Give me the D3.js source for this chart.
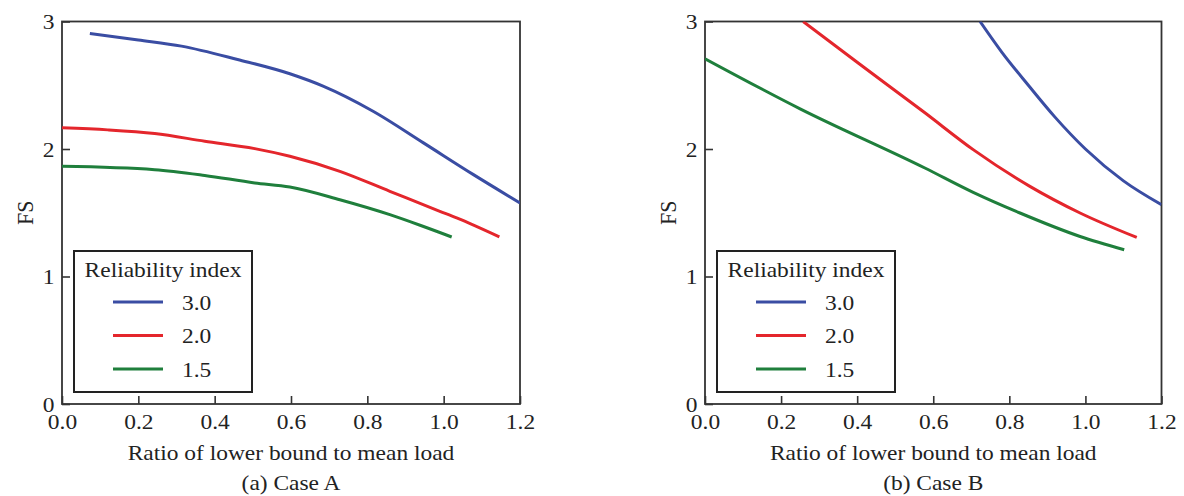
<!DOCTYPE html>
<html>
<head>
<meta charset="utf-8">
<script src="https://cdn.jsdelivr.net/npm/d3@7"></script>
<style>
  html, body { margin: 0; padding: 0; background: #fff; }
  svg text { font-family: "Liberation Serif", "Times New Roman", serif; fill: #222; }
</style>
</head>
<body>
<svg id="chart" width="1184" height="496"></svg>
<script>
// ---- Data ----
const reliabilityLabels = ["3.0", "2.0", "1.5"];
const seriesColors = ["#3a4da3", "#e4262c", "#1f7f3c"];

const xTicks = [0.0, 0.2, 0.4, 0.6, 0.8, 1.0, 1.2];
const yTicks = [0, 1, 2, 3];

// Case A
const caseA_beta30_x = [0.073, 0.2, 0.313, 0.46, 0.597, 0.684, 0.815, 0.947, 1.078, 1.2];
const caseA_beta30_y = [2.906, 2.855, 2.807, 2.702, 2.59, 2.493, 2.296, 2.048, 1.799, 1.577];
const caseA_beta20_x = [0.0, 0.12, 0.243, 0.374, 0.505, 0.597, 0.728, 0.859, 0.99, 1.034, 1.146];
const caseA_beta20_y = [2.166, 2.15, 2.121, 2.061, 2.003, 1.943, 1.825, 1.668, 1.511, 1.459, 1.31];
const caseA_beta15_x = [0.0, 0.243, 0.374, 0.505, 0.597, 0.728, 0.859, 0.94, 1.021];
const caseA_beta15_y = [1.864, 1.838, 1.793, 1.734, 1.702, 1.602, 1.485, 1.40, 1.31];

// Case B
const caseB_beta30_x = [0.723, 0.78, 0.85, 0.92, 1.0, 1.1, 1.2];
const caseB_beta30_y = [3.0, 2.76, 2.50, 2.25, 2.0, 1.75, 1.563];
const caseB_beta20_x = [0.258, 0.4, 0.578, 0.705, 0.854, 0.986, 1.135];
const caseB_beta20_y = [3.0, 2.68, 2.284, 1.995, 1.707, 1.498, 1.306];
const caseB_beta15_x = [0.0, 0.25, 0.578, 0.705, 0.828, 0.986, 1.102];
const caseB_beta15_y = [2.708, 2.315, 1.851, 1.66, 1.498, 1.314, 1.21];

const xLabel = "Ratio of lower bound to mean load";
const yLabel = "FS";
const legendTitle = "Reliability index";

const panels = [
  { caption: "(a) Case A", left: 62, right: 520,
    series: [[caseA_beta30_x, caseA_beta30_y], [caseA_beta20_x, caseA_beta20_y], [caseA_beta15_x, caseA_beta15_y]] },
  { caption: "(b) Case B", left: 705, right: 1161.5,
    series: [[caseB_beta30_x, caseB_beta30_y], [caseB_beta20_x, caseB_beta20_y], [caseB_beta15_x, caseB_beta15_y]] }
];

const svg = d3.select("#chart");
const plotTop = 21.5, plotBottom = 404;
const fontSize = 22;
const stretch = 1.065; // glyphs in the reference are slightly wider than tall

function addText(parent, x, y, str, anchor) {
  return parent.append("text")
    .attr("transform", `translate(${x},${y}) scale(${stretch},1)`)
    .attr("text-anchor", anchor || "start")
    .attr("font-size", fontSize).text(str);
}

panels.forEach((p, pi) => {
  const x = d3.scaleLinear().domain([0, 1.2]).range([p.left, p.right]);
  const y = d3.scaleLinear().domain([0, 3]).range([plotBottom, plotTop]);
  const g = svg.append("g");

  const clipId = "clip" + pi;
  svg.append("clipPath").attr("id", clipId).append("rect")
    .attr("x", p.left).attr("y", plotTop).attr("width", p.right - p.left).attr("height", plotBottom - plotTop);

  // Axes
  const xa = g.append("g").attr("transform", `translate(0,${plotBottom})`)
    .call(d3.axisBottom(x).tickValues(xTicks).tickFormat(d3.format(".1f"))
      .tickSizeInner(-8).tickSizeOuter(0).tickPadding(9));
  const ya = g.append("g").attr("transform", `translate(${p.left},0)`)
    .call(d3.axisLeft(y).tickValues(yTicks).tickFormat(d3.format("d"))
      .tickSizeInner(-8).tickSizeOuter(0).tickPadding(7));
  [xa, ya].forEach(a => {
    a.select(".domain").remove();
    a.selectAll(".tick line").attr("stroke", "#333").attr("stroke-width", 1.6);
    a.selectAll(".tick text").attr("font-size", fontSize).attr("fill", "#222")
      .attr("transform", `scale(${stretch},1)`)
      .style("font-family", '"Liberation Serif", "Times New Roman", serif');
  });

  // Frame
  g.append("rect").attr("x", p.left).attr("y", plotTop)
    .attr("width", p.right - p.left).attr("height", plotBottom - plotTop)
    .attr("fill", "none").attr("stroke", "#333").attr("stroke-width", 1.8);

  // Lines
  const line = d3.line().x(d => x(d[0])).y(d => y(d[1])).curve(d3.curveMonotoneX);
  p.series.forEach((s, i) => {
    const pts = s[0].map((xv, k) => [xv, s[1][k]]);
    g.append("path").datum(pts).attr("d", line)
      .attr("fill", "none").attr("stroke", seriesColors[i]).attr("stroke-width", 3)
      .attr("clip-path", `url(#${clipId})`);
  });

  // Axis titles
  const cx = (p.left + p.right) / 2;
  addText(g, cx, 460, xLabel, "middle");
  addText(g, cx, 490, p.caption, "middle");
  g.append("text").attr("transform", `translate(${p.left - 29},${(plotTop + plotBottom) / 2}) rotate(-90) scale(1,${stretch})`)
    .attr("text-anchor", "middle").attr("font-size", fontSize).text(yLabel);

  // Legend
  const lx = p.left + 12, ly = 251, lw = 178, lh = 141;
  const lg = g.append("g");
  lg.append("rect").attr("x", lx).attr("y", ly).attr("width", lw).attr("height", lh)
    .attr("fill", "#fff").attr("stroke", "#222").attr("stroke-width", 2);
  addText(lg, lx + lw / 2, ly + 26, legendTitle, "middle");
  reliabilityLabels.forEach((lab, i) => {
    const yy = ly + 51 + i * 33.5;
    lg.append("line").attr("x1", lx + 39).attr("x2", lx + 89).attr("y1", yy).attr("y2", yy)
      .attr("stroke", seriesColors[i]).attr("stroke-width", 3);
    addText(lg, lx + 108, yy + 7.5, lab, "start");
  });
});
</script>
</body>
</html>
